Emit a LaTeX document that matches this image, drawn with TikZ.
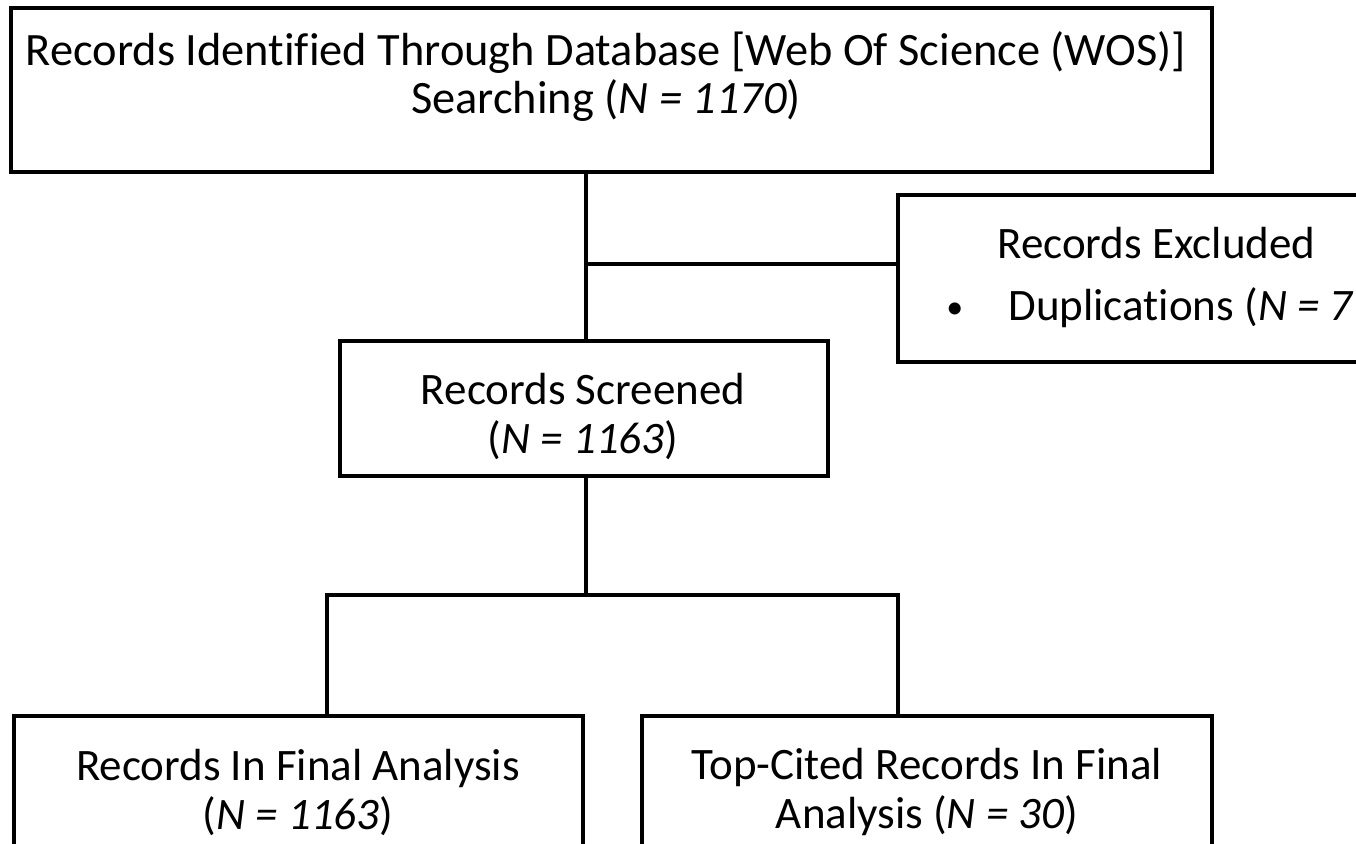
\documentclass[tikz,border=0pt]{standalone}
\usepackage{fontspec}
\setmainfont[Ligatures=NoCommon]{Carlito}
\usetikzlibrary{positioning}
\tikzset{
  recbox/.style={draw, line width=2pt, inner sep=0pt},
  rectext/.style={align=center, inner sep=0pt, font=\fontsize{22.5}{24.5}\selectfont},
  link/.style={line width=2pt}
}

\begin{document}
\begin{tikzpicture}[x=0.5pt,y=-0.5pt]
        \useasboundingbox (0,0) rectangle (1356,843);
        \clip (0,0) rectangle (1356,843);
        % boxes
        \node[recbox, minimum width=600.5pt, minimum height=82pt] (search) at (611.5,90) {};
        \node[recbox, minimum width=266pt, minimum height=83.5pt] (excl) at (1164,278.5) {};
        \node[recbox, minimum width=244pt, minimum height=67.5pt] (screen) at (584,408.5) {};
        \node[recbox, minimum width=284.5pt, minimum height=92pt] (final) at (298.5,808) {};
        \node[recbox, minimum width=285pt, minimum height=92pt] (topcited) at (927,808) {};
        % texts
        \node[rectext, font=\fontsize{23.2}{24}\selectfont] (searchtxt) at (606,77)
          {Records Identified Through Database [Web Of Science (WOS)]\\
           Searching (\textit{N = 1170})};
        \node[rectext, align=left, anchor=west] (excltxt) at (946,277)
          {\makebox[25.5pt][l]{}Records Excluded\\[6.5pt]
           \makebox[31pt][l]{\raisebox{1pt}{\fontsize{17}{17}\selectfont\textbullet}}Duplications (\textit{N = 7})};
        \node[rectext] (screentxt) at (583,416) {Records Screened\\(\textit{N = 1163})};
        \node[rectext] (finaltxt) at (298,792) {Records In Final Analysis\\(\textit{N = 1163})};
        \node[rectext] (citedtxt) at (927,792) {Top-Cited Records In Final\\Analysis (\textit{N = 30})};
        % connectors
        \coordinate (spine) at (586,264);
        \coordinate (lsplit) at (327,595);
        \coordinate (rsplit) at (898,595);
        \draw[link] (search.south -| spine) -- (screen.north -| spine);
        \draw[link] (spine) -- (spine -| excl.west);
        \draw[link] (screen.south -| spine) -- (spine |- lsplit);
        \draw[link] (lsplit |- final.north) -- (lsplit) -- (rsplit) -- (rsplit |- topcited.north);
      \end{tikzpicture}
\end{document}
